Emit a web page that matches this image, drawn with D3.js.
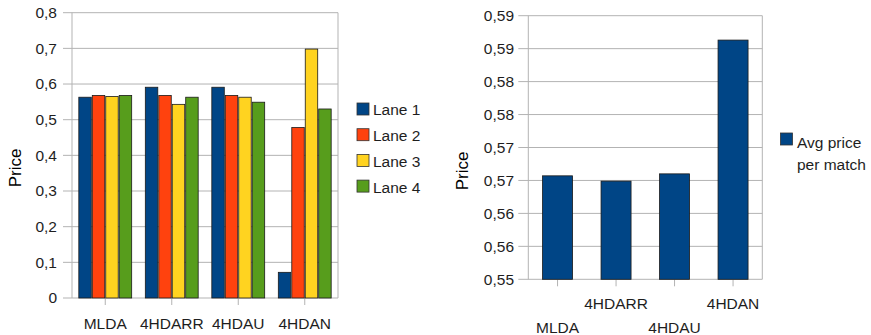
<!DOCTYPE html>
<html>
<head>
<meta charset="utf-8">
<script src="https://cdn.jsdelivr.net/npm/d3@7"></script>
<style>
  html, body { margin: 0; padding: 0; background: #fff; }
  svg { display: block; font-family: "Liberation Sans", Arial, sans-serif; }
</style>
</head>
<body>
<svg id="chart" width="871" height="335"></svg>
<script>
// ---- data ----
const categories = ["MLDA", "4HDARR", "4HDAU", "4HDAN"];
const lanes = ["Lane 1", "Lane 2", "Lane 3", "Lane 4"];
const lane1 = [0.563, 0.591, 0.591, 0.072];
const lane2 = [0.568, 0.568, 0.568, 0.478];
const lane3 = [0.565, 0.543, 0.563, 0.698];
const lane4 = [0.568, 0.563, 0.549, 0.530];
const laneColors = ["#004586", "#ff420e", "#ffd320", "#579d1c"];
const leftTicks = [0, 0.1, 0.2, 0.3, 0.4, 0.5, 0.6, 0.7, 0.8];
const leftTickLabels = ["0", "0,1", "0,2", "0,3", "0,4", "0,5", "0,6", "0,7", "0,8"];

const avgPrice = [0.5657, 0.5649, 0.5660, 0.5863];
const avgLabel = ["Avg price", "per match"];
const rightTicks = [0.55, 0.555, 0.56, 0.565, 0.57, 0.575, 0.58, 0.585, 0.59];
const rightTickLabels = ["0,55", "0,56", "0,56", "0,57", "0,57", "0,58", "0,58", "0,59", "0,59"];

const svg = d3.select("#chart");
const gridColor = "#b3b3b3";
const textColor = "#1e1e1e";
const fs = 15.5;

// ---- left chart: price per lane ----
{
  const L = 72, R = 338, T = 12.7, B = 298;
  const x0 = d3.scaleBand().domain(categories).range([L, R]).paddingInner(0.19).paddingOuter(0.095);
  const x1 = d3.scaleBand().domain(lanes).range([0, x0.bandwidth()]);
  const y = d3.scaleLinear().domain([0, 0.8]).range([B, T]);
  const series = [lane1, lane2, lane3, lane4];
  const g = svg.append("g");

  // gridlines with outward tick stubs
  g.selectAll("line.grid").data(leftTicks).join("line")
    .attr("x1", L - 9).attr("x2", R)
    .attr("y1", d => y(d)).attr("y2", d => y(d))
    .attr("stroke", gridColor).attr("stroke-width", 1);
  g.append("line").attr("x1", R).attr("x2", R).attr("y1", T).attr("y2", B).attr("stroke", gridColor);
  g.append("line").attr("x1", L).attr("x2", L).attr("y1", T).attr("y2", B).attr("stroke", gridColor);

  g.selectAll("text.ytick").data(leftTicks).join("text")
    .attr("x", 57).attr("y", d => y(d)).attr("dy", "0.35em")
    .attr("text-anchor", "end").attr("font-size", fs).attr("fill", textColor)
    .text((d, i) => leftTickLabels[i]);

  // category tick marks
  g.selectAll("line.xtick").data(categories).join("line")
    .attr("x1", d => x0(d) + x0.bandwidth() / 2).attr("x2", d => x0(d) + x0.bandwidth() / 2)
    .attr("y1", B).attr("y2", B + 7).attr("stroke", gridColor);

  // bars
  const groups = g.selectAll("g.cat").data(categories).join("g")
    .attr("transform", d => `translate(${x0(d)},0)`);
  groups.selectAll("rect").data((d, i) => series.map((s, k) => ({ lane: lanes[k], v: s[i], k })))
    .join("rect")
    .attr("x", d => x1(d.lane) + 0.5)
    .attr("width", x1.bandwidth() - 1)
    .attr("y", d => y(d.v))
    .attr("height", d => B - y(d.v))
    .attr("fill", d => laneColors[d.k])
    .attr("stroke", "#1a1a1a").attr("stroke-width", 0.8);

  g.selectAll("text.xlab").data(categories).join("text")
    .attr("x", d => x0(d) + x0.bandwidth() / 2).attr("y", 324).attr("dy", "0.35em")
    .attr("text-anchor", "middle").attr("font-size", fs).attr("fill", textColor)
    .text(d => d);

  g.append("text")
    .attr("transform", "translate(15,168) rotate(-90)")
    .attr("text-anchor", "middle").attr("dy", "0.35em")
    .attr("font-size", 17).attr("fill", "#000").text("Price");

  // legend
  const leg = g.selectAll("g.leg").data(lanes).join("g")
    .attr("transform", (d, i) => `translate(357,${103 + i * 25.7})`);
  leg.append("rect").attr("width", 12).attr("height", 12)
    .attr("fill", (d, i) => laneColors[i]).attr("stroke", "#333").attr("stroke-width", 0.8);
  leg.append("text").attr("x", 16).attr("y", 7).attr("dy", "0.35em")
    .attr("font-size", fs).attr("fill", textColor).text(d => d);
}

// ---- right chart: average price per match ----
{
  const L = 528.3, R = 762.3, T = 15.7, B = 279.3;
  const x = d3.scaleBand().domain(categories).range([L, R]).paddingInner(0.487).paddingOuter(0.2435);
  const y = d3.scaleLinear().domain([0.55, 0.59]).range([B, T]);
  const g = svg.append("g");

  g.selectAll("line.grid").data(rightTicks).join("line")
    .attr("x1", L - 10).attr("x2", R)
    .attr("y1", d => y(d)).attr("y2", d => y(d))
    .attr("stroke", gridColor).attr("stroke-width", 1);
  g.append("line").attr("x1", R).attr("x2", R).attr("y1", T).attr("y2", B).attr("stroke", gridColor);
  g.append("line").attr("x1", L).attr("x2", L).attr("y1", T).attr("y2", B).attr("stroke", gridColor);

  g.selectAll("text.ytick").data(rightTicks).join("text")
    .attr("x", 514).attr("y", d => y(d)).attr("dy", "0.35em")
    .attr("text-anchor", "end").attr("font-size", fs).attr("fill", textColor)
    .text((d, i) => rightTickLabels[i]);

  g.selectAll("line.xtick").data(categories).join("line")
    .attr("x1", d => x(d) + x.bandwidth() / 2).attr("x2", d => x(d) + x.bandwidth() / 2)
    .attr("y1", B).attr("y2", B + 7).attr("stroke", gridColor);

  g.selectAll("rect.bar").data(categories).join("rect")
    .attr("x", d => x(d)).attr("width", x.bandwidth())
    .attr("y", (d, i) => y(avgPrice[i]))
    .attr("height", (d, i) => B - y(avgPrice[i]))
    .attr("fill", laneColors[0]).attr("stroke", "#1a1a1a").attr("stroke-width", 0.8);

  // staggered category labels
  g.selectAll("text.xlab").data(categories).join("text")
    .attr("x", d => x(d) + x.bandwidth() / 2)
    .attr("y", (d, i) => i % 2 === 0 ? 327.5 : 304).attr("dy", "0.35em")
    .attr("text-anchor", "middle").attr("font-size", fs).attr("fill", textColor)
    .text(d => d);

  g.append("text")
    .attr("transform", "translate(462,171) rotate(-90)")
    .attr("text-anchor", "middle").attr("dy", "0.35em")
    .attr("font-size", 17).attr("fill", "#000").text("Price");

  g.append("rect").attr("x", 780.5).attr("y", 133).attr("width", 12).attr("height", 12)
    .attr("fill", laneColors[0]).attr("stroke", "#333").attr("stroke-width", 0.8);
  g.selectAll("text.leg").data(avgLabel).join("text")
    .attr("x", 797).attr("y", (d, i) => 142.5 + i * 22.5).attr("dy", "0.35em")
    .attr("font-size", fs).attr("fill", textColor).text(d => d);
}
</script>
</body>
</html>
